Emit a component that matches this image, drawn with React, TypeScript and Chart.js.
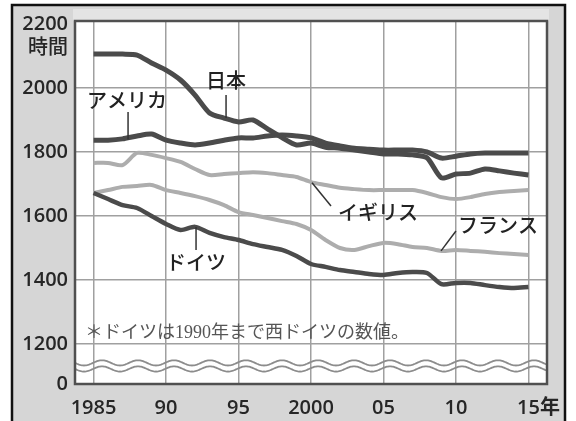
import React, { useEffect, useRef } from 'react';
import { Chart, registerables } from 'chart.js';

Chart.register(...registerables);

// ---- data ----
const years = [
  1985, 1986, 1987, 1988, 1989, 1990, 1991, 1992, 1993, 1994,
  1995, 1996, 1997, 1998, 1999, 2000, 2001, 2002, 2003, 2004,
  2005, 2006, 2007, 2008, 2009, 2010, 2011, 2012, 2013, 2014, 2015,
];
const japan = [
  2106, 2106, 2106, 2103, 2078, 2056, 2025, 1978, 1922, 1906,
  1894, 1900, 1872, 1845, 1822, 1828, 1815, 1812, 1806, 1800,
  1794, 1794, 1791, 1782, 1719, 1731, 1734, 1747, 1741, 1734, 1728,
];
const usa = [
  1837, 1837, 1841, 1850, 1856, 1837, 1828, 1822, 1828, 1837,
  1844, 1844, 1850, 1853, 1850, 1844, 1828, 1819, 1812, 1809,
  1806, 1806, 1806, 1800, 1781, 1787, 1794, 1797, 1797, 1797, 1797,
];
const uk = [
  1766, 1766, 1759, 1797, 1791, 1781, 1769, 1747, 1728, 1731,
  1734, 1737, 1734, 1728, 1722, 1706, 1697, 1688, 1684, 1681,
  1681, 1681, 1681, 1672, 1659, 1653, 1659, 1669, 1675, 1678, 1681,
];
const france = [
  1672, 1681, 1691, 1694, 1697, 1681, 1672, 1662, 1650, 1634,
  1612, 1603, 1594, 1584, 1575, 1556, 1525, 1500, 1494, 1506,
  1516, 1512, 1503, 1500, 1491, 1494, 1491, 1488, 1484, 1481, 1478,
];
const germany = [
  1672, 1653, 1634, 1625, 1600, 1575, 1556, 1566, 1547, 1534,
  1525, 1512, 1503, 1494, 1475, 1450, 1441, 1431, 1425, 1419,
  1416, 1422, 1425, 1422, 1387, 1391, 1391, 1384, 1378, 1375, 1378,
];
const seriesNames = ['日本', 'アメリカ', 'ドイツ', 'イギリス', 'フランス'];
const xTickYears = [1985, 1990, 1995, 2000, 2005, 2010, 2015];
const xTickLabels = ['1985', '90', '95', '2000', '05', '10', '15年'];
const yTickValues = [1200, 1400, 1600, 1800, 2000, 2200];
const yBreakLabel = '0';
const yUnit = '時間';
const footnote = '＊ドイツは1990年まで西ドイツの数値。';

// ---- layout (data-space positions for annotations) ----
const X_MIN = 1983.72;
const X_MAX = 2016.28;
const Y_MIN = 1075;
const Y_MAX = 2209.4;
const BREAK_VALUES = [1141, 1122];
const labelPos = [
  { name: '日本', x: 1994.14, y: 2025, line: [[1994.14, 1978], [1994.14, 1906]] },
  { name: 'アメリカ', x: 1987.31, y: 1962, line: [[1987.38, 1925], [1987.38, 1839]] },
  { name: 'イギリス', x: 2004.62, y: 1612, line: [[2000.07, 1704], [2001.38, 1631]] },
  { name: 'フランス', x: 2012.9, y: 1572, line: [[2008.97, 1491], [2010.0, 1553]] },
  { name: 'ドイツ', x: 1992.07, y: 1456, line: [[1992.07, 1566], [1992.07, 1494]] },
];
const footPos = { x: 1984.41, y: 1234 };

const TICK_FONT = '"Open Sans", "Noto Sans CJK JP", sans-serif';
const JP_FONT = '"Noto Sans CJK JP", sans-serif';

export default function App() {
  const ref = useRef<HTMLCanvasElement>(null);

  useEffect(() => {
    const canvas = ref.current!;
    const pts = (arr: number[]) => arr.map((v, i) => ({ x: years[i], y: v }));
    const dark = '#4b4b4b';
    const light = '#adadad';

    const decor = {
      id: 'decor',
      beforeDraw(chart: any) {
        const { ctx, width, height, chartArea: a } = chart;
        ctx.save();
        ctx.fillStyle = '#ffffff';
        ctx.fillRect(0, 0, width, height);
        ctx.fillStyle = '#d6d6d6';
        ctx.fillRect(13, 6, 551, height - 6);
        ctx.fillStyle = '#e4e4e4';
        ctx.fillRect(a.left - 2, 9, a.right - a.left + 4, a.top - 9);
        ctx.strokeStyle = '#111';
        ctx.lineWidth = 2.5;
        ctx.beginPath();
        ctx.moveTo(12, height + 2);
        ctx.lineTo(12, 5);
        ctx.lineTo(565, 5);
        ctx.lineTo(565, height + 2);
        ctx.stroke();
        ctx.fillStyle = '#ffffff';
        ctx.fillRect(a.left, a.top, a.right - a.left, a.bottom - a.top);
        ctx.restore();
      },
      afterDatasetsDraw(chart: any) {
        const { ctx, chartArea: a } = chart;
        const xs = chart.scales.x;
        const ys = chart.scales.y;
        ctx.save();
        // wavy axis-break lines
        ctx.strokeStyle = '#8c8c8c';
        ctx.lineWidth = 1.8;
        for (const bv of BREAK_VALUES) {
          const y0 = ys.getPixelForValue(bv);
          ctx.beginPath();
          for (let px = a.left; px <= a.right; px += 1) {
            const yy = y0 + 2.6 * Math.sin(((px - a.left) / 36) * Math.PI * 2);
            if (px === a.left) ctx.moveTo(px, yy);
            else ctx.lineTo(px, yy);
          }
          ctx.stroke();
        }
        // plot frame
        ctx.strokeStyle = '#505050';
        ctx.lineWidth = 2.5;
        ctx.strokeRect(a.left, a.top, a.right - a.left, a.bottom - a.top);

        // annotation pointers and labels
        ctx.strokeStyle = '#333';
        ctx.lineWidth = 1.5;
        ctx.fillStyle = '#222';
        ctx.font = '500 20px ' + JP_FONT;
        ctx.textAlign = 'center';
        ctx.textBaseline = 'middle';
        for (const l of labelPos) {
          ctx.beginPath();
          ctx.moveTo(xs.getPixelForValue(l.line[0][0]), ys.getPixelForValue(l.line[0][1]));
          ctx.lineTo(xs.getPixelForValue(l.line[1][0]), ys.getPixelForValue(l.line[1][1]));
          ctx.stroke();
          ctx.fillText(l.name, xs.getPixelForValue(l.x), ys.getPixelForValue(l.y));
        }
        // footnote
        ctx.fillStyle = '#555';
        ctx.font = '18px "Liberation Serif", "Noto Sans CJK JP", serif';
        ctx.textAlign = 'left';
        ctx.fillText(footnote, xs.getPixelForValue(footPos.x), ys.getPixelForValue(footPos.y));
        // unit label
        ctx.fillStyle = '#262626';
        ctx.font = '500 20px ' + JP_FONT;
        ctx.textAlign = 'right';
        ctx.fillText(yUnit, a.left - 7, 46);
        ctx.restore();
      },
    };

    const chart = new Chart(canvas, {
      type: 'line',
      data: {
        datasets: [
          { label: seriesNames[0], data: pts(japan), borderColor: dark, borderWidth: 5 },
          { label: seriesNames[1], data: pts(usa), borderColor: dark, borderWidth: 5 },
          { label: seriesNames[2], data: pts(germany), borderColor: dark, borderWidth: 4.5 },
          { label: seriesNames[3], data: pts(uk), borderColor: light, borderWidth: 4 },
          { label: seriesNames[4], data: pts(france), borderColor: light, borderWidth: 4 },
        ].map((d) => ({ ...d, pointRadius: 0, tension: 0.25, fill: false })),
      },
      options: {
        animation: false,
        responsive: false,
        devicePixelRatio: 1,
        layout: { padding: { left: 0, top: 21, right: 29, bottom: 0 } },
        plugins: { legend: { display: false }, tooltip: { enabled: false } },
        scales: {
          x: {
            type: 'linear',
            min: X_MIN,
            max: X_MAX,
            afterBuildTicks: (s: any) => {
              s.ticks = xTickYears.map((v) => ({ value: v }));
            },
            afterFit: (s: any) => {
              s.height = 37;
            },
            ticks: {
              autoSkip: false,
              maxRotation: 0,
              padding: 12,
              color: '#262626',
              font: { family: TICK_FONT, size: 20, weight: '600' },
              callback: (_v: any, i: number) => {
                const t = xTickLabels[i];
                return t.endsWith('年') ? '\u2003' + t : t;
              },
            },
            grid: { color: '#a0a0a0', lineWidth: 1.5, drawTicks: false },
            border: { display: false },
          },
          y: {
            type: 'linear',
            min: Y_MIN,
            max: Y_MAX,
            afterBuildTicks: (s: any) => {
              s.ticks = [Y_MIN, ...yTickValues].map((v) => ({ value: v }));
            },
            afterFit: (s: any) => {
              s.width = 75;
            },
            ticks: {
              autoSkip: false,
              padding: 7,
              color: '#262626',
              font: { family: TICK_FONT, size: 20, weight: '600' },
              callback: (v: any) => (v === Y_MIN ? yBreakLabel : String(v)),
            },
            grid: {
              drawTicks: false,
              lineWidth: 1.5,
              color: (c: any) =>
                c.tick && (c.tick.value === Y_MIN || c.tick.value === 2200)
                  ? 'rgba(0,0,0,0)'
                  : '#a0a0a0',
            },
            border: { display: false },
          },
        },
      },
      plugins: [decor],
    } as any);

    return () => chart.destroy();
  }, []);

  return (
    <div style={{ position: 'fixed', left: 0, top: 0, width: 576, height: 421 }}>
      <canvas ref={ref} width={576} height={421} style={{ display: 'block' }} />
    </div>
  );
}
